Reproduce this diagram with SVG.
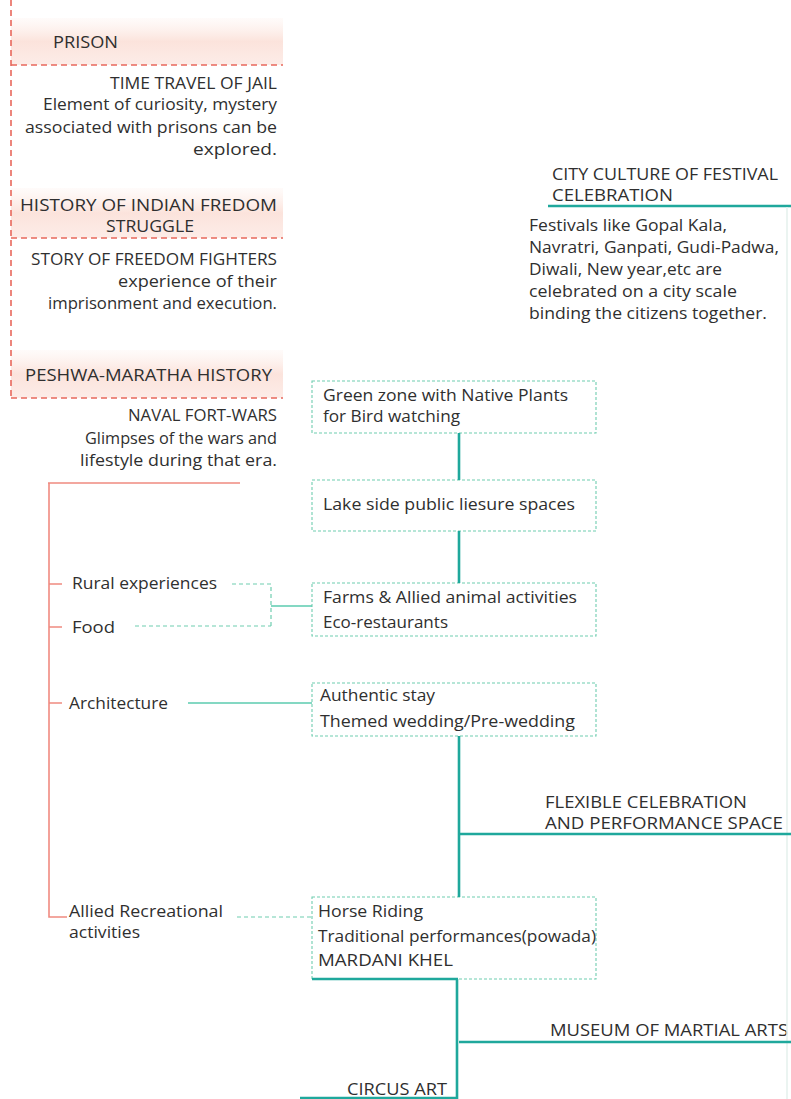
<svg xmlns="http://www.w3.org/2000/svg" width="791" height="1099" viewBox="0 0 791 1099">
<style>
text{font-family:"Open Sans","Noto Sans","Liberation Sans",sans-serif;fill:#2f2f2f;font-size:16.5px}
.s{font-size:15.5px}
.r{text-anchor:end}
.rd{stroke:#e8685c;stroke-width:1.6;fill:none;stroke-dasharray:6 4}
.rs{stroke:#f08a80;stroke-width:1.6;fill:none}
.gb{fill:#fff;stroke:#6fcdb0;stroke-width:1.1;stroke-dasharray:3 2}
.gd{stroke:#6fcdb0;stroke-width:1.2;fill:none;stroke-dasharray:4 3}
.gs{stroke:#5ccbb0;stroke-width:1.4;fill:none}
.t{stroke:#1fa89c;stroke-width:2.6;fill:none}
</style>
<defs>
<linearGradient id="pk" x1="0" y1="0" x2="0" y2="1">
<stop offset="0" stop-color="#fdece6" stop-opacity="0.2"/>
<stop offset="0.5" stop-color="#fbe0d8" stop-opacity="0.9"/>
<stop offset="1" stop-color="#fbe0d8" stop-opacity="0.6"/>
</linearGradient>
</defs>
<rect width="791" height="1099" fill="#fff"/>
<g id="prison-history">
<rect x="11" y="18" width="272" height="47" fill="url(#pk)"/>
<rect x="11" y="188" width="272" height="50" fill="url(#pk)"/>
<rect x="11" y="350" width="272" height="48" fill="url(#pk)"/>
<path class="rd" d="M11 0V398"/>
<path class="rd" d="M11 65H283M11 238H283M11 398H283"/>
<text x="53" y="48" textLength="65" lengthAdjust="spacingAndGlyphs">PRISON</text>
<text class="r s" x="277" y="89" textLength="167" lengthAdjust="spacingAndGlyphs">TIME TRAVEL OF JAIL</text>
<text class="r" x="277" y="110" textLength="234" lengthAdjust="spacingAndGlyphs">Element of curiosity, mystery</text>
<text class="r" x="277" y="133" textLength="252" lengthAdjust="spacingAndGlyphs">associated with prisons can be</text>
<text class="r" x="277" y="155" textLength="84" lengthAdjust="spacingAndGlyphs">explored.</text>
<text x="20" y="211" textLength="257" lengthAdjust="spacingAndGlyphs">HISTORY OF INDIAN FREDOM</text>
<text x="106" y="232" textLength="88" lengthAdjust="spacingAndGlyphs">STRUGGLE</text>
<text class="r s" x="277" y="265" textLength="246" lengthAdjust="spacingAndGlyphs">STORY OF FREEDOM FIGHTERS</text>
<text class="r" x="277" y="287" textLength="159" lengthAdjust="spacingAndGlyphs">experience of their</text>
<text class="r" x="277" y="309" textLength="229" lengthAdjust="spacingAndGlyphs">imprisonment and execution.</text>
<text x="25" y="381" textLength="247" lengthAdjust="spacingAndGlyphs">PESHWA-MARATHA HISTORY</text>
<text class="r s" x="277" y="421" textLength="149" lengthAdjust="spacingAndGlyphs">NAVAL FORT-WARS</text>
<text class="r" x="277" y="444" textLength="192" lengthAdjust="spacingAndGlyphs">Glimpses of the wars and</text>
<text class="r" x="277" y="466" textLength="197" lengthAdjust="spacingAndGlyphs">lifestyle during that era.</text>
</g>
<g id="city-culture">
<text x="552" y="180" textLength="226" lengthAdjust="spacingAndGlyphs">CITY CULTURE OF FESTIVAL</text>
<text x="552" y="201" textLength="121" lengthAdjust="spacingAndGlyphs">CELEBRATION</text>
<text x="529" y="231" textLength="198" lengthAdjust="spacingAndGlyphs">Festivals like Gopal Kala,</text>
<text x="529" y="253" textLength="250" lengthAdjust="spacingAndGlyphs">Navratri, Ganpati, Gudi-Padwa,</text>
<text x="529" y="275" textLength="193" lengthAdjust="spacingAndGlyphs">Diwali, New year,etc are</text>
<text x="529" y="297" textLength="208" lengthAdjust="spacingAndGlyphs">celebrated on a city scale</text>
<text x="529" y="319" textLength="238" lengthAdjust="spacingAndGlyphs">binding the citizens together.</text>
</g>
<g id="left-list">
<text x="72" y="589" textLength="145" lengthAdjust="spacingAndGlyphs">Rural experiences</text>
<text x="72" y="633" textLength="43" lengthAdjust="spacingAndGlyphs">Food</text>
<text x="69" y="709" textLength="99" lengthAdjust="spacingAndGlyphs">Architecture</text>
<text x="69" y="917" textLength="154" lengthAdjust="spacingAndGlyphs">Allied Recreational</text>
<text x="69" y="938" textLength="71" lengthAdjust="spacingAndGlyphs">activities</text>
</g>
<g id="box-green-zone">
<rect class="gb" x="312" y="381" width="284" height="52"/>
<text x="323" y="401" textLength="245" lengthAdjust="spacingAndGlyphs">Green zone with Native Plants</text>
<text x="323" y="422" textLength="137" lengthAdjust="spacingAndGlyphs">for Bird watching</text>
</g>
<g id="box-lake">
<rect class="gb" x="312" y="480" width="284" height="51"/>
<text x="323" y="510" textLength="252" lengthAdjust="spacingAndGlyphs">Lake side public liesure spaces</text>
</g>
<g id="box-farms">
<rect class="gb" x="312" y="583" width="284" height="53"/>
<text x="323" y="603" textLength="254" lengthAdjust="spacingAndGlyphs">Farms &amp; Allied animal activities</text>
<text x="323" y="628" textLength="125" lengthAdjust="spacingAndGlyphs">Eco-restaurants</text>
</g>
<g id="box-stay">
<rect class="gb" x="312" y="683" width="284" height="53"/>
<text x="320" y="701" textLength="115" lengthAdjust="spacingAndGlyphs">Authentic stay</text>
<text x="320" y="727" textLength="255" lengthAdjust="spacingAndGlyphs">Themed wedding/Pre-wedding</text>
</g>
<g id="box-horse">
<rect class="gb" x="312" y="897" width="284" height="82"/>
<text x="318" y="917" textLength="105" lengthAdjust="spacingAndGlyphs">Horse Riding</text>
<text x="318" y="942" textLength="278" lengthAdjust="spacingAndGlyphs">Traditional performances(powada)</text>
<text x="318" y="966" textLength="135" lengthAdjust="spacingAndGlyphs">MARDANI KHEL</text>
</g>
<g id="flexible">
<text x="545" y="808" textLength="202" lengthAdjust="spacingAndGlyphs">FLEXIBLE CELEBRATION</text>
<text x="545" y="829" textLength="238" lengthAdjust="spacingAndGlyphs">AND PERFORMANCE SPACE</text>
</g>
<g id="museum">
<text class="r" x="788" y="1036" textLength="238" lengthAdjust="spacingAndGlyphs">MUSEUM OF MARTIAL ARTS</text>
</g>
<g id="circus">
<text class="r" x="447" y="1095" textLength="100" lengthAdjust="spacingAndGlyphs">CIRCUS ART</text>
</g>
<g id="connectors">
<path class="rs" d="M48 483H240M49 483V917H67M49 584H62M49 627H62M49 703H62"/>
<path class="gd" d="M232 584H271V626M135 626H271"/>
<path class="gs" d="M271 606H312M188 703H312"/>
<path class="gd" d="M237 917H312"/>
<path class="t" d="M548 206H791"/>
<path d="M787 207V1099" stroke="#e4f1ec" stroke-width="1.5" fill="none"/>
<path class="t" d="M459 433V480M459 531V583M459 736V897M459 834H791"/>
<path class="t" d="M312 979H458M457 979V1099M459 1042H791M300 1098H457"/>
</g>
</svg>
